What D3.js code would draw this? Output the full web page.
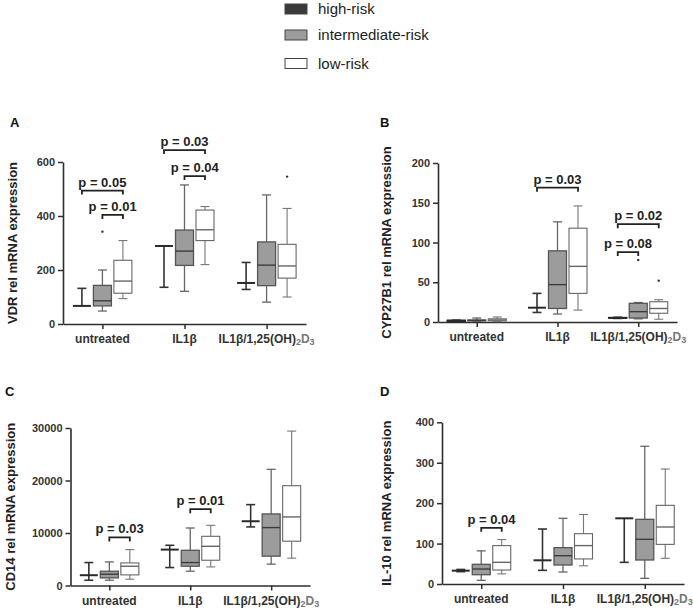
<!DOCTYPE html>
<html lang="en">
<head>
<meta charset="UTF-8">
<title>Risk groups box plots</title>
<script src="https://cdn.jsdelivr.net/npm/d3@7"></script>
<style>
  body { margin: 0; background: #fff; }
  svg text { font-family: "Liberation Sans", Arial, sans-serif; }
</style>
</head>
<body>
<svg id="chart" width="693" height="609"></svg>
<script>
const treatments = ["untreated", "IL1β", "IL1β/1,25(OH)2D3"];
const risks = ["high-risk", "intermediate-risk", "low-risk"];

// [min, q1, median, q3, max] for each treatment, then each risk group
const vdrBoxes = [
  [[67, 67, 67, 67, 132], [48, 67, 86, 143, 200], [94, 114, 159, 236, 309]],
  [[136, 289, 289, 289, 289], [121, 217, 270, 348, 515], [220, 309, 349, 422, 435]],
  [[128, 152, 152, 152, 228], [81, 142, 218, 304, 478], [100, 170, 215, 295, 428]]
];
const cypBoxes = [
  [[0.8, 1, 1.5, 2, 2.3], [1, 1.5, 2, 2.5, 5], [0.5, 1.5, 2.5, 4, 6.3]],
  [[12, 18, 18, 18, 36], [10, 17, 47, 89.5, 126], [15, 36, 70, 118, 146]],
  [[4.5, 5, 5, 5.5, 6], [4, 5, 13, 23.5, 24.5], [3.5, 11, 17, 25.5, 28]]
];
const cd14Boxes = [
  [[1000, 1960, 1960, 1960, 4370], [1000, 1450, 2150, 2720, 4490], [1200, 2020, 3670, 4300, 6840]],
  [[3420, 6840, 6840, 6840, 7660], [2720, 3670, 4370, 6710, 10950], [3540, 4810, 7470, 9370, 11460]],
  [[11160, 12240, 12240, 12240, 15400], [4070, 5590, 11030, 13630, 22130], [5210, 8440, 13060, 19010, 29410]]
];
const il10Boxes = [
  [[30.5, 33, 33, 33, 36], [9, 23, 37, 48.7, 82], [25, 34.6, 53.6, 95, 110]],
  [[33.8, 58.6, 58.6, 58.6, 136], [29.7, 47, 70, 90, 162.5], [45, 62, 95, 124.5, 172]],
  [[53.6, 162.5, 162.5, 162.5, 162.5], [14, 59.4, 110.5, 160, 340.6], [63.5, 98, 141, 194.6, 284.5]]
];

// outliers: [treatment index, risk index, value]
const vdrOutliers = [[0, 1, 342], [2, 2, 546]];
const cypOutliers = [[2, 1, 78], [2, 2, 52]];

// brackets: [treatment index, from risk, to risk, height value, label]
const vdrPValues = [[0, 0, 2, 494, "p = 0.05"], [0, 1, 2, 404, "p = 0.01"],
                    [1, 0, 2, 644, "p = 0.03"], [1, 1, 2, 548, "p = 0.04"]];
const cypPValues = [[1, 0, 2, 169, "p = 0.03"], [2, 0, 2, 123, "p = 0.02"], [2, 0, 1, 88, "p = 0.08"]];
const cd14PValues = [[0, 1, 2, 9160, "p = 0.03"], [1, 1, 2, 14540, "p = 0.01"]];
const il10PValues = [[0, 1, 2, 139, "p = 0.04"]];

const vdrTicks = [0, 200, 400, 600];
const cypTicks = [0, 50, 100, 150, 200];
const cd14Ticks = [0, 10000, 20000, 30000];
const il10Ticks = [0, 100, 200, 300, 400];

const svg = d3.select("#chart");

const panels = [
  {letter: "A", title: "VDR rel mRNA expression", boxes: vdrBoxes, outliers: vdrOutliers, pvals: vdrPValues,
   ticks: vdrTicks, x0: 63, x1: 306, y0: 324, y1: 162, lx: 10, ly: 127, tx: 17},
  {letter: "B", title: "CYP27B1 rel mRNA expression", boxes: cypBoxes, outliers: cypOutliers, pvals: cypPValues,
   ticks: cypTicks, x0: 438, x1: 677, y0: 322, y1: 163, lx: 380, ly: 127, tx: 391},
  {letter: "C", title: "CD14 rel mRNA expression", boxes: cd14Boxes, outliers: [], pvals: cd14PValues,
   ticks: cd14Ticks, x0: 70.5, x1: 310, y0: 585.5, y1: 428, lx: 5, ly: 396, tx: 15},
  {letter: "D", title: "IL-10 rel mRNA expression", boxes: il10Boxes, outliers: [], pvals: il10PValues,
   ticks: il10Ticks, x0: 442, x1: 684, y0: 584, y1: 422.3, lx: 380, ly: 396, tx: 391}
];

const style = {
  "high-risk":         {fill: "#3a3a3a", stroke: "#2a2a2a", whisker: "#333", width: 1.6, median: "#2a2a2a"},
  "intermediate-risk": {fill: "#9c9c9c", stroke: "#555", whisker: "#666", width: 1.3, median: "#3c3c3c"},
  "low-risk":          {fill: "#fff", stroke: "#666", whisker: "#777", width: 1.1, median: "#666"}
};

const off = d3.scalePoint().domain(risks).range([-20.5, 20.5]);
const boxW = 18, capW = 9;

panels.forEach(p => {
  const g = svg.append("g");
  const x = d3.scalePoint().domain(treatments).range([p.x0, p.x1]).padding(0.48);
  const y = d3.scaleLinear().domain([0, d3.max(p.ticks)]).range([p.y0, p.y1]);

  // axes
  const ya = g.append("g").attr("transform", `translate(${p.x0},0)`)
    .call(d3.axisLeft(y).tickValues(p.ticks).tickFormat(d3.format("d"))
      .tickSize(5).tickSizeOuter(0).tickPadding(3));
  const xa = g.append("g").attr("transform", `translate(0,${p.y0})`)
    .call(d3.axisBottom(x).tickSize(5).tickSizeOuter(0).tickFormat(""));
  [ya, xa].forEach(a => {
    a.select(".domain").attr("stroke", "#2e2e2e").attr("stroke-width", 1.6);
    a.selectAll(".tick line").attr("stroke", "#2e2e2e").attr("stroke-width", 1.5);
  });
  ya.selectAll(".tick text").attr("font-size", 11).attr("font-weight", "bold").attr("fill", "#333");

  // x labels
  treatments.forEach((t, i) => {
    const tx = g.append("text").attr("x", x(t)).attr("y", p.y0 + 19)
      .attr("text-anchor", "middle").attr("font-size", 12).attr("font-weight", "bold").attr("fill", "#333");
    if (i === 2) {
      tx.append("tspan").text("IL1β/1,25(OH)");
      tx.append("tspan").text("2").attr("font-size", 9).attr("dy", 2).attr("fill", "#777");
      tx.append("tspan").text("D").attr("dy", -2).attr("fill", "#777");
      tx.append("tspan").text("3").attr("font-size", 9).attr("dy", 2).attr("fill", "#777");
    } else {
      tx.text(t);
    }
  });

  // y title and panel letter
  g.append("text")
    .attr("transform", `translate(${p.tx},${(p.y0 + p.y1) / 2}) rotate(-90)`)
    .attr("text-anchor", "middle").attr("font-size", 13).attr("font-weight", "bold").attr("fill", "#222")
    .text(p.title);
  g.append("text").attr("x", p.lx).attr("y", p.ly)
    .attr("font-size", 13).attr("font-weight", "bold").attr("fill", "#111").text(p.letter);

  // boxes
  p.boxes.forEach((row, i) => {
    row.forEach((s, j) => {
      const r = risks[j], st = style[r];
      const cx = x(treatments[i]) + off(r);
      const [mn, q1, md, q3, mx] = s;
      const b = g.append("g");
      if (mx > q3) {
        b.append("line").attr("x1", cx).attr("x2", cx).attr("y1", y(q3)).attr("y2", y(mx));
        b.append("line").attr("x1", cx - capW / 2).attr("x2", cx + capW / 2).attr("y1", y(mx)).attr("y2", y(mx));
      }
      if (mn < q1) {
        b.append("line").attr("x1", cx).attr("x2", cx).attr("y1", y(q1)).attr("y2", y(mn));
        b.append("line").attr("x1", cx - capW / 2).attr("x2", cx + capW / 2).attr("y1", y(mn)).attr("y2", y(mn));
      }
      b.selectAll("line").attr("stroke", st.whisker).attr("stroke-width", st.width);
      b.append("rect").attr("x", cx - boxW / 2).attr("width", boxW)
        .attr("y", y(q3)).attr("height", Math.max(0, y(q1) - y(q3)))
        .attr("fill", st.fill).attr("stroke", st.stroke).attr("stroke-width", st.width);
      b.append("line").attr("x1", cx - boxW / 2).attr("x2", cx + boxW / 2).attr("y1", y(md)).attr("y2", y(md))
        .attr("stroke", st.median).attr("stroke-width", r === "high-risk" ? 2 : 1.4);
    });
  });

  // outliers
  g.selectAll("circle.out").data(p.outliers).join("circle").attr("class", "out")
    .attr("cx", d => x(treatments[d[0]]) + off(risks[d[1]]))
    .attr("cy", d => y(d[2])).attr("r", 1.2).attr("fill", "#333");

  // significance brackets
  p.pvals.forEach(d => {
    const xa1 = x(treatments[d[0]]) + off(risks[d[1]]);
    const xa2 = x(treatments[d[0]]) + off(risks[d[2]]);
    const yy = y(d[3]);
    g.append("path")
      .attr("d", `M${xa1},${yy + 4}V${yy}H${xa2}V${yy + 4}`)
      .attr("fill", "none").attr("stroke", "#222").attr("stroke-width", 1.8);
    g.append("text").attr("x", (xa1 + xa2) / 2).attr("y", yy - 4)
      .attr("text-anchor", "middle").attr("font-size", 13).attr("font-weight", "bold").attr("fill", "#222")
      .text(d[4]);
  });
});

// legend
const legend = svg.append("g");
risks.forEach((r, i) => {
  const yy = [4, 30, 58.5][i];
  legend.append("rect").attr("x", 285).attr("y", yy).attr("width", 22).attr("height", 10)
    .attr("fill", style[r].fill).attr("stroke", "#444").attr("stroke-width", 1);
  legend.append("text").attr("x", 318).attr("y", yy + 10).attr("font-size", 15).attr("fill", "#222").text(r);
});
</script>
</body>
</html>
